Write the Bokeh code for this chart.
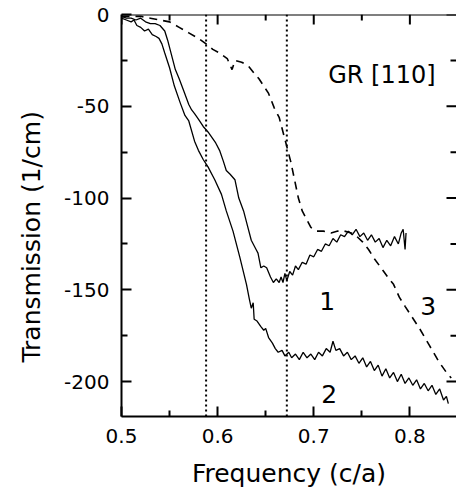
import math
from bokeh.plotting import figure
from bokeh.models import FixedTicker, Span, Label, Range1d, Title
from bokeh.embed import file_html
from bokeh.resources import INLINE

# ---- data ----
x1 = [0.500, 0.505, 0.510, 0.515, 0.520, 0.525, 0.530, 0.535, 0.540, 0.545, 0.548, 0.552,
      0.556, 0.560, 0.565, 0.570, 0.573, 0.576, 0.580, 0.585, 0.590, 0.594, 0.598, 0.602,
      0.606, 0.609, 0.613, 0.618, 0.622, 0.627, 0.631, 0.635, 0.640, 0.642, 0.645, 0.648,
      0.651, 0.655, 0.658, 0.661, 0.664, 0.666, 0.668, 0.670, 0.672, 0.675, 0.678, 0.681,
      0.684, 0.688, 0.692, 0.696, 0.700, 0.704, 0.708, 0.712, 0.716, 0.720, 0.724, 0.728,
      0.732, 0.736, 0.740, 0.744, 0.748, 0.752, 0.756, 0.760, 0.764, 0.768, 0.772, 0.776,
      0.780, 0.784, 0.788, 0.791, 0.793, 0.795, 0.796]
y1 = [-1, -2, -2, -3, -2, -4, -5, -5, -6, -9, -14, -22,
      -30, -35, -42, -49, -52, -54, -57, -61, -64, -67, -70, -74,
      -80, -85, -87, -90, -100, -107, -115, -123, -128, -130, -138, -137,
      -138, -143, -146, -144, -146, -143, -146, -141, -145, -140, -142, -137,
      -139, -135, -136, -131, -132, -128, -129, -125, -126, -122, -124, -120,
      -121, -118, -120, -117, -121, -119, -123, -120, -124, -122, -127, -123,
      -126, -121, -125, -119, -117, -128, -119]

x2 = [0.500, 0.505, 0.510, 0.513, 0.516, 0.520, 0.524, 0.528, 0.532, 0.536, 0.539, 0.542,
      0.545, 0.550, 0.555, 0.561, 0.566, 0.570, 0.576, 0.580, 0.585, 0.590, 0.597, 0.604,
      0.609, 0.616, 0.623, 0.630, 0.633, 0.635, 0.637, 0.638, 0.641, 0.645, 0.648, 0.650,
      0.653, 0.657, 0.660, 0.663, 0.667, 0.670, 0.674, 0.677, 0.681, 0.685, 0.689, 0.693,
      0.697, 0.701, 0.705, 0.709, 0.713, 0.717, 0.720, 0.723, 0.727, 0.731, 0.735, 0.739,
      0.743, 0.747, 0.751, 0.755, 0.759, 0.763, 0.767, 0.771, 0.775, 0.779, 0.783, 0.787,
      0.791, 0.795, 0.799, 0.803, 0.807, 0.811, 0.815, 0.819, 0.823, 0.827, 0.831, 0.835,
      0.838, 0.840]
y2 = [-2, -3, -4, -3, -6, -7, -9, -8, -11, -12, -13, -16,
      -21, -29, -39, -48, -55, -58, -69, -74, -79, -83, -90, -98,
      -107, -118, -132, -147, -155, -160, -157, -166, -167, -170, -172, -171,
      -176, -179, -182, -184, -183, -186, -184, -187, -185, -188, -184, -187,
      -185, -188, -184, -186, -182, -184, -178, -183, -182, -186, -184, -188,
      -186, -190, -187, -192, -189, -194, -191, -197, -193, -198, -195, -200,
      -196, -201, -198, -202, -199, -204, -201, -205, -202, -207, -204, -210,
      -208, -212]

x3 = [0.500, 0.510, 0.520, 0.530, 0.540, 0.550, 0.560, 0.570, 0.580, 0.588, 0.595, 0.602,
      0.610, 0.615, 0.618, 0.625, 0.632, 0.638, 0.643, 0.648, 0.653, 0.659, 0.664, 0.668,
      0.672, 0.676, 0.680, 0.684, 0.688, 0.692, 0.697, 0.703, 0.710, 0.718, 0.725, 0.732,
      0.739, 0.745, 0.751, 0.757, 0.763, 0.770, 0.777, 0.783, 0.789, 0.795, 0.800, 0.810,
      0.820, 0.830, 0.838, 0.843]
y3 = [-1, -1, -1, -2, -3, -4, -7, -10, -13, -16, -19, -21,
      -24, -30, -25, -26, -28, -32, -35, -39, -43, -51, -56, -64,
      -72, -80, -90, -100, -107, -111, -116, -118, -118, -119, -118, -118,
      -119, -121, -124, -128, -133, -138, -143, -147, -154, -159, -163, -171,
      -180, -189, -195, -198]

band_edges = [0.588, 0.672]

x_ticks = [0.5, 0.6, 0.7, 0.8]
x_minor = [0.55, 0.65, 0.75, 0.85]
x_tick_labels = ["0.5", "0.6", "0.7", "0.8"]
y_ticks = [0, -50, -100, -150, -200]
y_minor = [-25, -75, -125, -175]
y_tick_labels = ["0", "-50", "-100", "-150", "-200"]

curve_names = ["1", "2", "3"]
curve_label_x = [0.714, 0.716, 0.819]
curve_label_y = [-156, -206.5, -159]
title_text = "GR [110]"
x_title = "Frequency (c/a)"
y_title = "Transmission (1/cm)"

FONT = "DejaVu Sans"
X0, X1 = 0.5, 0.8485
Y0, Y1 = -219, 0

p = figure(width=456, height=493, output_backend="svg", toolbar_location=None,
           x_range=Range1d(X0, X1), y_range=Range1d(Y0, Y1),
           min_border_left=120, min_border_right=0, min_border_top=14, min_border_bottom=77)
p.grid.visible = False
p.outline_line_color = None
p.background_fill_color = "white"
p.border_fill_color = "white"


def style(ax):
    ax.axis_line_width = 2
    ax.axis_line_color = "black"
    ax.major_tick_line_width = 2
    ax.minor_tick_line_width = 2
    ax.major_tick_line_color = "black"
    ax.minor_tick_line_color = "black"
    ax.major_tick_in = 10
    ax.major_tick_out = 0
    ax.minor_tick_in = 6
    ax.minor_tick_out = 0
    ax.major_label_text_font = FONT
    ax.axis_label_text_font = FONT
    ax.axis_label_text_font_style = "normal"
    ax.axis_label_text_font_size = "25px"
    ax.axis_label_text_color = "black"
    ax.major_label_text_color = "black"
    ax.major_label_text_font_size = "20px"
    ax.major_label_standoff = 12
    ax.axis_label_standoff = 13


xa = p.xaxis[0]
xa.ticker = FixedTicker(ticks=x_ticks, minor_ticks=x_minor)
xa.major_label_overrides = {t: s for t, s in zip(x_ticks, x_tick_labels)}
xa.axis_label = x_title
style(xa)

ya = p.yaxis[0]
ya.ticker = FixedTicker(ticks=y_ticks, minor_ticks=y_minor)
ya.major_label_overrides = {t: s for t, s in zip(y_ticks, y_tick_labels)}
style(ya)
ya.axis_label = None

# y-axis title, sitting a little below the centre of the axis as in the reference
p.add_layout(Title(text=y_title, align="left", offset=54, vertical_align="middle",
                   standoff=30, text_font=FONT, text_font_size="25px",
                   text_font_style="normal", text_color="black"), "left")

# top frame line and inward ticks on the top and right edges
p.add_layout(Span(location=Y1, dimension="width", line_color="black", line_width=2))
p.ray(x=x_ticks, y=[Y1] * len(x_ticks), length=10, length_units="screen",
      angle=-math.pi / 2, line_color="black", line_width=2)
p.ray(x=x_minor, y=[Y1] * len(x_minor), length=6, length_units="screen",
      angle=-math.pi / 2, line_color="black", line_width=2)
p.ray(x=[X1] * len(y_ticks), y=y_ticks, length=10, length_units="screen",
      angle=math.pi, line_color="black", line_width=2)
p.ray(x=[X1] * len(y_minor), y=y_minor, length=6, length_units="screen",
      angle=math.pi, line_color="black", line_width=2)

for v in band_edges:
    p.add_layout(Span(location=v, dimension="height", line_color="black",
                      line_width=2, line_dash="2 3"))

p.line(x1, y1, line_color="black", line_width=1.3)
p.line(x2, y2, line_color="black", line_width=1.3)
p.line(x3, y3, line_color="black", line_width=1.6, line_dash="8 6")

for name, lx, ly in zip(curve_names, curve_label_x, curve_label_y):
    p.add_layout(Label(x=lx, y=ly, text=name, text_font=FONT, text_font_size="25px",
                       text_align="center", text_baseline="alphabetic", text_color="black"))

p.add_layout(Label(x=0.715, y=-33, text=title_text, text_font=FONT, text_font_size="24px",
                   text_align="left", text_baseline="alphabetic", text_color="black"))

open("out.html", "w").write(file_html(p, INLINE))
